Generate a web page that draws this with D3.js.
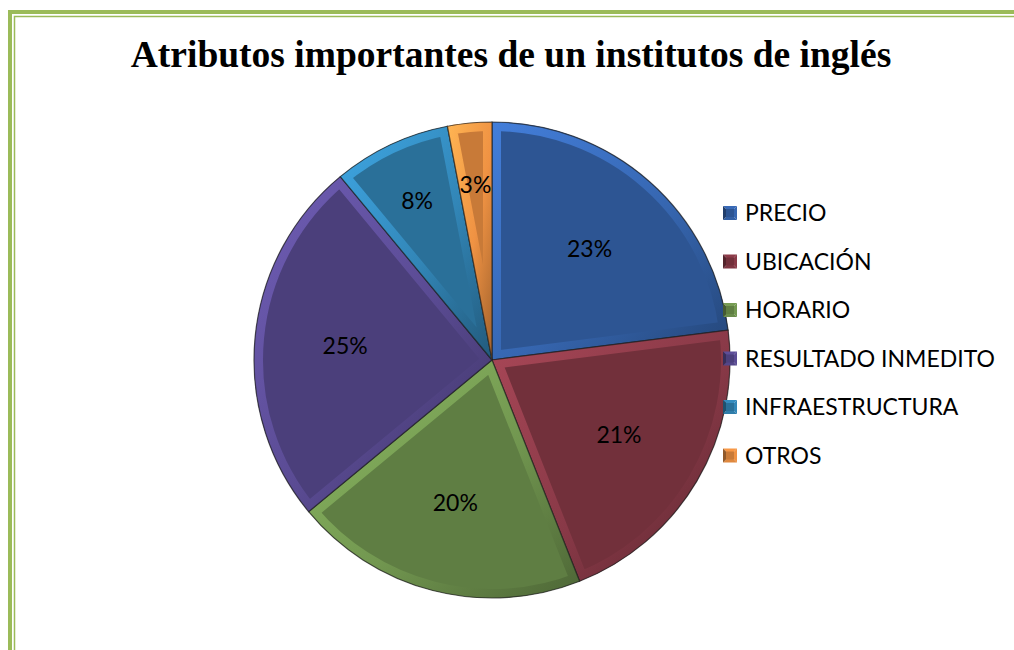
<!DOCTYPE html>
<html>
<head>
<meta charset="utf-8">
<script src="https://cdn.jsdelivr.net/npm/d3@7"></script>
<style>
  html, body { margin: 0; padding: 0; background: #fff; }
  svg { display: block; }
</style>
</head>
<body>
<script>
'use strict';

const categories = ['PRECIO', 'UBICACIÓN', 'HORARIO', 'RESULTADO INMEDITO', 'INFRAESTRUCTURA', 'OTROS'];
const values = [23, 21, 20, 25, 8, 3];
const colors = ['#2d5593', '#72303b', '#5f7e43', '#4b3f7b', '#2a7099', '#c87a38'];
const title = 'Atributos importantes de un institutos de inglés';

const width = 1014, height = 650;
const cx = 492, cy = 360, radius = 238;

const svg = d3.select('body').append('svg')
    .attr('width', width)
    .attr('height', height);

const defs = svg.append('defs');

// green double frame (runs off the right / bottom edge)
svg.append('rect')
    .attr('x', 10).attr('y', 12)
    .attr('width', 1040).attr('height', 700)
    .attr('fill', 'none')
    .attr('stroke', '#9bbb59')
    .attr('stroke-width', 4);
svg.append('rect')
    .attr('x', 14.5).attr('y', 16.5)
    .attr('width', 1040).attr('height', 700)
    .attr('fill', 'none')
    .attr('stroke', '#9bbb59')
    .attr('stroke-width', 1.5);

svg.append('text')
    .attr('x', 511)
    .attr('y', 67)
    .attr('text-anchor', 'middle')
    .style('font-family', '"Liberation Serif", "Times New Roman", serif')
    .style('font-weight', 'bold')
    .style('font-size', '37.5px')
    .text(title);

const pie = d3.pie().sort(null).value(d => d);
const arcs = pie(values);

const arc = d3.arc().innerRadius(0).outerRadius(radius);

const g = svg.append('g')
    .attr('transform', 'translate(' + cx + ',' + cy + ')');

// bevel gradients, light at the top-left, dark at the bottom-right
colors.forEach(function (c, i) {
  const grad = defs.append('linearGradient')
      .attr('id', 'bevel' + i)
      .attr('x1', 0).attr('y1', 0).attr('x2', 1).attr('y2', 1);
  grad.append('stop').attr('offset', '0%').attr('stop-color', d3.color(c).brighter(1.1));
  grad.append('stop').attr('offset', '55%').attr('stop-color', d3.color(c).brighter(0.5));
  grad.append('stop').attr('offset', '100%').attr('stop-color', d3.color(c).darker(0.6));

  defs.append('clipPath')
      .attr('id', 'clip' + i)
    .append('path')
      .attr('d', arc(arcs[i]));
});

const slices = g.selectAll('g.slice')
    .data(arcs)
  .enter().append('g')
    .attr('class', 'slice');

// slice body
slices.append('path')
    .attr('d', arc)
    .attr('fill', (d, i) => colors[i]);

// bevel band along every edge, kept inside the slice
slices.append('path')
    .attr('d', arc)
    .attr('clip-path', (d, i) => 'url(#clip' + i + ')')
    .attr('fill', 'none')
    .attr('stroke', (d, i) => 'url(#bevel' + i + ')')
    .attr('stroke-width', 18)
    .attr('stroke-linejoin', 'miter');

slices.append('path')
    .attr('d', arc)
    .attr('fill', 'none')
    .attr('stroke', '#1e1e1e')
    .attr('stroke-opacity', 0.7)
    .attr('stroke-width', 1.2);

// data labels
const labelArc = d => {
  const k = d.data >= 15 ? 0.62 : 0.74;
  return d3.arc().innerRadius(radius * k).outerRadius(radius * k).centroid(d);
};

g.selectAll('text.label')
    .data(arcs)
  .enter().append('text')
    .attr('class', 'label')
    .attr('x', d => labelArc(d)[0])
    .attr('y', d => labelArc(d)[1])
    .attr('dy', '0.35em')
    .attr('text-anchor', 'middle')
    .style('font-family', 'Lato, "Open Sans", sans-serif')
    .style('font-size', '23px')
    .style('fill', '#000')
    .text(d => d.data + '%');

// legend
const legend = svg.append('g')
    .attr('transform', 'translate(723,206)');

const item = legend.selectAll('g.item')
    .data(categories)
  .enter().append('g')
    .attr('class', 'item')
    .attr('transform', (d, i) => 'translate(0,' + (i * 48.5) + ')');

const s = 14;
// beveled marker made of four triangles
const tri = [
  ['M0,0', 'L' + s + ',0', 'L' + (s / 2) + ',' + (s / 2), 'Z'],
  ['M' + s + ',0', 'L' + s + ',' + s, 'L' + (s / 2) + ',' + (s / 2), 'Z'],
  ['M0,' + s, 'L' + s + ',' + s, 'L' + (s / 2) + ',' + (s / 2), 'Z'],
  ['M0,0', 'L0,' + s, 'L' + (s / 2) + ',' + (s / 2), 'Z']
];
const shade = [0.6, 0.5, 0.3, -0.9];

tri.forEach(function (t, k) {
  item.append('path')
      .attr('d', t.join(''))
      .attr('fill', (d, i) => shade[k] >= 0
        ? d3.color(colors[i]).brighter(shade[k])
        : d3.color(colors[i]).darker(-shade[k]));
});
item.append('rect')
    .attr('x', 3).attr('y', 3)
    .attr('width', s - 6).attr('height', s - 6)
    .attr('fill', (d, i) => colors[i]);

item.append('text')
    .attr('x', 22)
    .attr('y', s / 2)
    .attr('dy', '0.35em')
    .style('font-family', 'Lato, "Open Sans", sans-serif')
    .style('font-size', '23px')
    .style('fill', '#000')
    .text(d => d);
</script>
</body>
</html>
